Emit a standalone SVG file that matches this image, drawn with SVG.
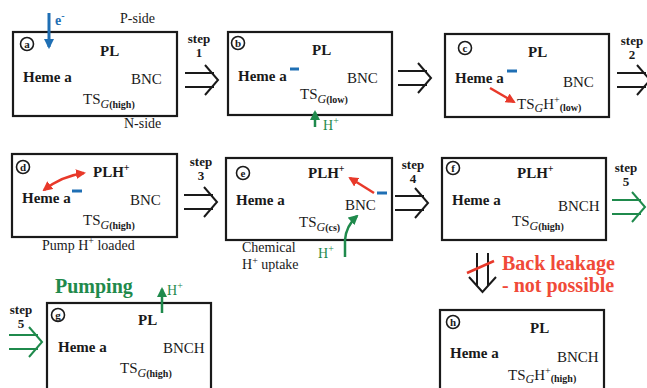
<svg xmlns="http://www.w3.org/2000/svg" width="647" height="388" viewBox="0 0 647 388">
<style>
.box{fill:none;stroke:#1a1a1a;stroke-width:2.2}
text{font-family:"Liberation Serif","Times New Roman",serif;fill:#1a1a1a}
.b15{font-size:15px;font-weight:bold}
.r15{font-size:15px}
.sg{font-size:12px;font-style:italic}
.sh{font-size:10px;font-weight:bold}
.sup{font-size:10px}
.lbl{font-size:14px}
.step{font-size:13px;font-weight:bold;text-anchor:middle}
.cl{font-size:11px;font-weight:bold;text-anchor:middle}
.circ{fill:none;stroke:#1a1a1a;stroke-width:1.6}
.minus{stroke:#1f6fb4;stroke-width:3}
.dbl{fill:none;stroke:#1a1a1a;stroke-width:2}
.dblg{fill:none;stroke:#1f8a4c;stroke-width:2}
.red{fill:none;stroke:#e8392a;stroke-width:2.5}
.grn{fill:none;stroke:#1f8a4c;stroke-width:2.5}
.gtxt{fill:#1f8a4c}
.rtxt{fill:#f04a38;font-weight:bold;font-size:20px}
</style>
<defs>
<marker id="ar" viewBox="0 0 10 10" refX="8" refY="5" markerWidth="4" markerHeight="4" orient="auto-start-reverse"><path d="M0,0 L10,5 L0,10 z" fill="#e8392a"/></marker>
<marker id="ag" viewBox="0 0 10 10" refX="8" refY="5" markerWidth="4" markerHeight="4" orient="auto"><path d="M0,0 L10,5 L0,10 z" fill="#1f8a4c"/></marker>
<marker id="ab" viewBox="0 0 10 10" refX="8" refY="5" markerWidth="3.5" markerHeight="3.5" orient="auto"><path d="M0,0 L10,5 L0,10 z" fill="#1f6fb4"/></marker>
<g id="darrow"><path d="M0,-7 H29 M0,7 H29 M20,-15 L33,0 L20,15"/></g>
</defs>

<g id="connectors">
<use href="#darrow" class="dbl" transform="translate(185,80)"/>
<use href="#darrow" class="dbl" transform="translate(398,78)"/>
<use href="#darrow" class="dbl" transform="translate(617,80)"/>
<use href="#darrow" class="dbl" transform="translate(184,202)"/>
<use href="#darrow" class="dbl" transform="translate(395,203)"/>
<use href="#darrow" class="dblg" transform="translate(612,207)"/>
<use href="#darrow" class="dblg" transform="translate(9,342)"/>
<text class="step" x="199" y="43">step</text><text class="step" x="199" y="57">1</text>
<text class="step" x="632" y="45">step</text><text class="step" x="632" y="59">2</text>
<text class="step" x="201" y="166">step</text><text class="step" x="201" y="180">3</text>
<text class="step" x="413" y="169">step</text><text class="step" x="413" y="183">4</text>
<text class="step" x="626" y="172">step</text><text class="step" x="626" y="186">5</text>
<text class="step" x="21" y="314">step</text><text class="step" x="21" y="328">5</text>
<g id="backleak">
<path class="dbl" d="M477,253 V286 M488,253 V286 M469,277 L482.5,292 L496,277"/>
<line x1="467" y1="273" x2="494" y2="261" stroke="#e8392a" stroke-width="2.5"/>
<text class="rtxt" x="502" y="270">Back leakage</text>
<text class="rtxt" x="502" y="292">- not possible</text>
</g>
</g>

<g id="node-a">
<rect class="box" x="13" y="32" width="164" height="84"/>
<circle class="circ" cx="27" cy="44" r="6.5"/><text class="cl" x="27" y="48">a</text>
<text class="b15" x="100" y="56">PL</text>
<text class="b15" x="23" y="82">Heme a</text>
<text class="r15" x="131" y="84">BNC</text>
<text class="r15" x="83" y="104">TS<tspan class="sg" dy="4">G</tspan><tspan class="sh">(high)</tspan></text>
<text class="lbl" x="120" y="23">P-side</text>
<text class="lbl" x="124" y="128">N-side</text>
<line x1="49" y1="13" x2="49" y2="47" stroke="#1f6fb4" stroke-width="3" marker-end="url(#ab)"/>
<text x="55" y="25" style="font-size:14px;font-weight:bold;fill:#1f6fb4">e<tspan class="sup" dy="-6">-</tspan></text>
</g>

<g id="node-b">
<rect class="box" x="228" y="32" width="164" height="83"/>
<circle class="circ" cx="238" cy="43" r="6.5"/><text class="cl" x="238" y="47">b</text>
<text class="b15" x="312" y="55">PL</text>
<text class="b15" x="238" y="81">Heme a</text>
<line class="minus" x1="290" y1="69" x2="299" y2="69"/>
<text class="r15" x="347" y="83">BNC</text>
<text class="r15" x="300" y="99">TS<tspan class="sg" dy="4">G</tspan><tspan class="sh">(low)</tspan></text>
<line class="grn" x1="315" y1="127" x2="315" y2="112" marker-end="url(#ag)"/>
<text class="lbl gtxt" x="323" y="130">H<tspan class="sup" dy="-6">+</tspan></text>
</g>

<g id="node-c">
<rect class="box" x="445" y="34" width="164" height="83"/>
<circle class="circ" cx="465" cy="48" r="6.5"/><text class="cl" x="465" y="52">c</text>
<text class="b15" x="528" y="57">PL</text>
<text class="b15" x="455" y="83">Heme a</text>
<line class="minus" x1="507" y1="71" x2="517" y2="71"/>
<text class="r15" x="563" y="87">BNC</text>
<line class="red" x1="490" y1="88" x2="514" y2="102" marker-end="url(#ar)"/>
<text class="r15" x="517" y="109">TS<tspan class="sg" dy="3">G</tspan><tspan dy="-3">H</tspan><tspan class="sup" dy="-6">+</tspan><tspan class="sh" dy="8">(low)</tspan></text>
</g>

<g id="node-d">
<rect class="box" x="12" y="154" width="165" height="83"/>
<circle class="circ" cx="23" cy="167" r="6.5"/><text class="cl" x="23" y="171">d</text>
<text class="b15" x="93" y="177">PLH<tspan class="sup" dy="-6">+</tspan></text>
<text class="b15" x="22" y="203">Heme a</text>
<line class="minus" x1="72" y1="191" x2="82" y2="191"/>
<path class="red" d="M44,190 Q62,176 84,173" marker-start="url(#ar)" marker-end="url(#ar)"/>
<text class="r15" x="130" y="205">BNC</text>
<text class="r15" x="83" y="225">TS<tspan class="sg" dy="4">G</tspan><tspan class="sh">(high)</tspan></text>
<text class="lbl" x="42" y="250">Pump H<tspan class="sup" dy="-6">+</tspan><tspan dy="6"> loaded</tspan></text>
</g>

<g id="node-e">
<rect class="box" x="226" y="158" width="166" height="82"/>
<circle class="circ" cx="243" cy="173" r="6.5"/><text class="cl" x="243" y="177">e</text>
<text class="b15" x="308" y="178">PLH<tspan class="sup" dy="-6">+</tspan></text>
<text class="b15" x="236" y="205">Heme a</text>
<text class="r15" x="345" y="210">BNC</text>
<line class="minus" x1="377" y1="193" x2="387" y2="193"/>
<line class="red" x1="374" y1="193" x2="350" y2="178" marker-end="url(#ar)"/>
<text class="r15" x="299" y="227">TS<tspan class="sg" dy="4">G</tspan><tspan class="sh">(cs)</tspan></text>
<path class="grn" d="M345,257 L345,240 Q346,226 357,216" marker-end="url(#ag)"/>
<text class="lbl gtxt" x="318" y="258">H<tspan class="sup" dy="-6">+</tspan></text>
<text class="lbl" x="242" y="252">Chemical</text>
<text class="lbl" x="242" y="269">H<tspan class="sup" dy="-5">+</tspan><tspan dy="5"> uptake</tspan></text>
</g>

<g id="node-f">
<rect class="box" x="442" y="158" width="164" height="82"/>
<circle class="circ" cx="453" cy="168" r="6.5"/><text class="cl" x="453" y="172">f</text>
<text class="b15" x="517" y="178">PLH<tspan class="sup" dy="-6">+</tspan></text>
<text class="b15" x="452" y="205">Heme a</text>
<text class="r15" x="558" y="211">BNCH</text>
<text class="r15" x="512" y="226">TS<tspan class="sg" dy="4">G</tspan><tspan class="sh">(high)</tspan></text>
</g>

<g id="node-g">
<rect class="box" x="47" y="303" width="164" height="95"/>
<circle class="circ" cx="58" cy="315" r="6.5"/><text class="cl" x="58" y="319">g</text>
<text class="gtxt" x="55" y="293" style="font-size:20px;font-weight:bold">Pumping</text>
<line class="grn" x1="162" y1="313" x2="162" y2="289" marker-end="url(#ag)"/>
<text class="lbl gtxt" x="167" y="295">H<tspan class="sup" dy="-6">+</tspan></text>
<text class="b15" x="138" y="325">PL</text>
<text class="b15" x="58" y="352">Heme a</text>
<text class="r15" x="163" y="353">BNCH</text>
<text class="r15" x="120" y="373">TS<tspan class="sg" dy="4">G</tspan><tspan class="sh">(high)</tspan></text>
</g>

<g id="node-h">
<rect class="box" x="440" y="310" width="164" height="90"/>
<circle class="circ" cx="453" cy="322" r="6.5"/><text class="cl" x="453" y="326">h</text>
<text class="b15" x="530" y="333">PL</text>
<text class="b15" x="450" y="358">Heme a</text>
<text class="r15" x="557" y="362">BNCH</text>
<text class="r15" x="508" y="380">TS<tspan class="sg" dy="3">G</tspan><tspan dy="-3">H</tspan><tspan class="sup" dy="-6">+</tspan><tspan class="sh" dy="8">(high)</tspan></text>
</g>
</svg>
